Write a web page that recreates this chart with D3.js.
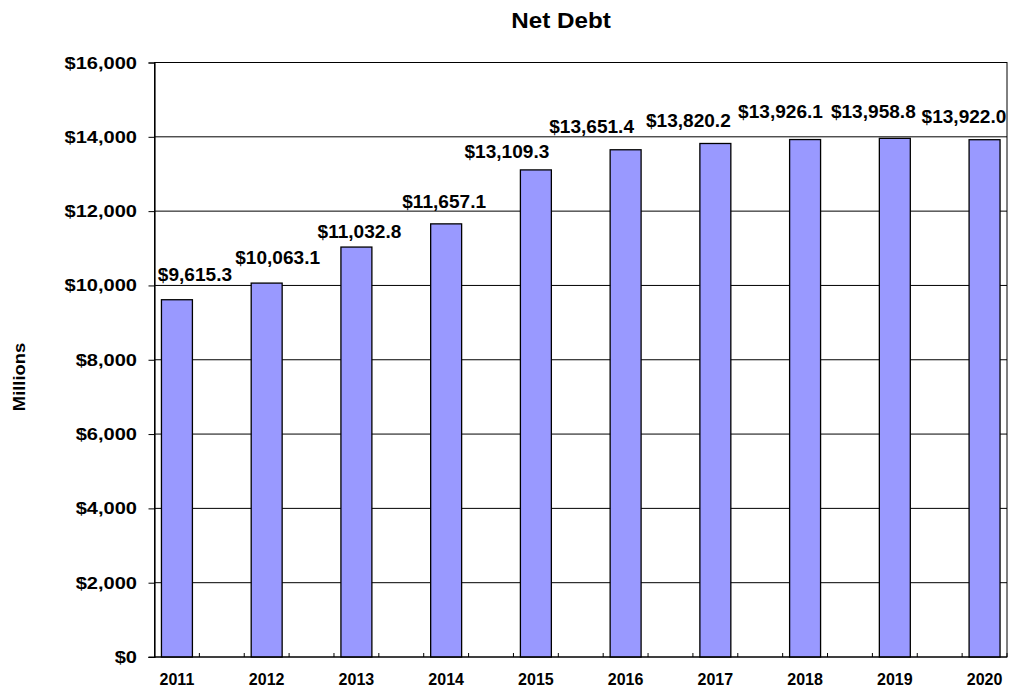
<!DOCTYPE html>
<html>
<head>
<meta charset="utf-8">
<script src="https://cdn.jsdelivr.net/npm/d3@7/dist/d3.min.js"></script>
<style>
  html, body { margin: 0; padding: 0; background: #fff; }
  text { font-family: "Liberation Sans", Arial, sans-serif; font-weight: bold; fill: #000; }
</style>
</head>
<body>
<svg id="chart" width="1010" height="691"></svg>
<script>
// ---- data ----
const categories = ["2011","2012","2013","2014","2015","2016","2017","2018","2019","2020"];
const netDebt = [9615.3, 10063.1, 11032.8, 11657.1, 13109.3, 13651.4, 13820.2, 13926.1, 13958.8, 13922.0];
const yTicks = [0, 2000, 4000, 6000, 8000, 10000, 12000, 14000, 16000];
const labelTexts = ["$9,615.3","$10,063.1","$11,032.8","$11,657.1","$13,109.3","$13,651.4","$13,820.2","$13,926.1","$13,958.8","$13,922.0"];

// ---- layout (label nudges as in the original, px relative to bar top-center) ----
const labelNudge = [[18,-18.7],[11,-19.1],[3,-8.8],[-2,-15.6],[-29,-11.6],[-34,-17.1],[-27,-16.8],[-24.6,-21.3],[-21.5,-20.1],[-20.6,-16.4]];

(function () {
const svg = d3.select("#chart");
const pLeft = 154.5, pRight = 1007, pTop = 62.5, pBottom = 657;

const x = d3.scalePoint().domain(categories).range([pLeft, pRight]).padding(0.25);
const step = x.step();
const y = d3.scaleLinear().domain([0, 16000]).range([pBottom, pTop]);
const barW = step * 0.345;

svg.append("defs").append("clipPath").attr("id","plotclip")
  .append("rect").attr("x", 0).attr("y", 0).attr("width", pRight).attr("height", 691);

// gridlines
svg.append("g").selectAll("line").data(yTicks.filter(d => d > 0)).join("line")
  .attr("x1", pLeft).attr("x2", pRight)
  .attr("y1", d => y(d)).attr("y2", d => y(d))
  .attr("stroke", "#000").attr("stroke-width", 1);

// plot border
svg.append("rect").attr("x", pLeft).attr("y", pTop).attr("width", pRight - pLeft).attr("height", pBottom - pTop)
  .attr("fill", "none").attr("stroke", "#000").attr("stroke-width", 1);

// bars
svg.append("g").selectAll("rect").data(netDebt).join("rect")
  .attr("x", (d, i) => x(categories[i]) - barW / 2)
  .attr("y", d => y(d))
  .attr("width", barW)
  .attr("height", d => pBottom - y(d))
  .attr("fill", "#9999FF")
  .attr("stroke", "#000").attr("stroke-width", 1.3);

// y axis
const yAxis = svg.append("g").attr("transform", `translate(${pLeft},0)`)
  .call(d3.axisLeft(y).tickValues(yTicks).tickSize(6).tickFormat(""));
yAxis.select(".domain").attr("stroke", "#000").attr("stroke-width", 1.2);
yAxis.selectAll(".tick line").attr("stroke", "#000");

svg.append("g").selectAll("text").data(yTicks).join("text")
  .attr("transform", d => `translate(137,${y(d) + 6}) scale(1.18,1)`)
  .attr("text-anchor", "end")
  .style("font-size", "17px")
  .text(d => "$" + d3.format(",")(d));

// x axis: line + inward half-step ticks
const xAxisG = svg.append("g");
xAxisG.append("line").attr("x1", pLeft - 6).attr("x2", pRight).attr("y1", pBottom).attr("y2", pBottom)
  .attr("stroke", "#000").attr("stroke-width", 1.2);
const tickPos = [];
categories.forEach(c => { tickPos.push(x(c) - step / 4); tickPos.push(x(c) + step / 4); });
xAxisG.selectAll("line.t").data(tickPos).join("line").attr("class", "t")
  .attr("x1", d => d).attr("x2", d => d).attr("y1", pBottom).attr("y2", pBottom - 4)
  .attr("stroke", "#000").attr("stroke-width", 1);

svg.append("g").selectAll("text").data(categories).join("text")
  .attr("x", d => x(d)).attr("y", 685)
  .attr("text-anchor", "middle")
  .style("font-size", "16px")
  .text(d => d);

// data labels
svg.append("g").attr("clip-path", "url(#plotclip)").selectAll("text").data(netDebt).join("text")
  .attr("transform", (d, i) => `translate(${x(categories[i]) + labelNudge[i][0]},${y(d) + labelNudge[i][1]}) scale(1.09,1)`)
  .attr("text-anchor", "middle")
  .style("font-size", "17.5px")
  .text((d, i) => labelTexts[i]);

// title
svg.append("text")
  .attr("transform", "translate(561,27.5) scale(1.1,1)")
  .attr("text-anchor", "middle")
  .style("font-size", "22px")
  .text("Net Debt");

// y axis title
svg.append("text")
  .attr("transform", "translate(25,377) rotate(-90) scale(1.08,1)")
  .attr("text-anchor", "middle")
  .style("font-size", "17px")
  .text("Millions");
})();
</script>
</body>
</html>
